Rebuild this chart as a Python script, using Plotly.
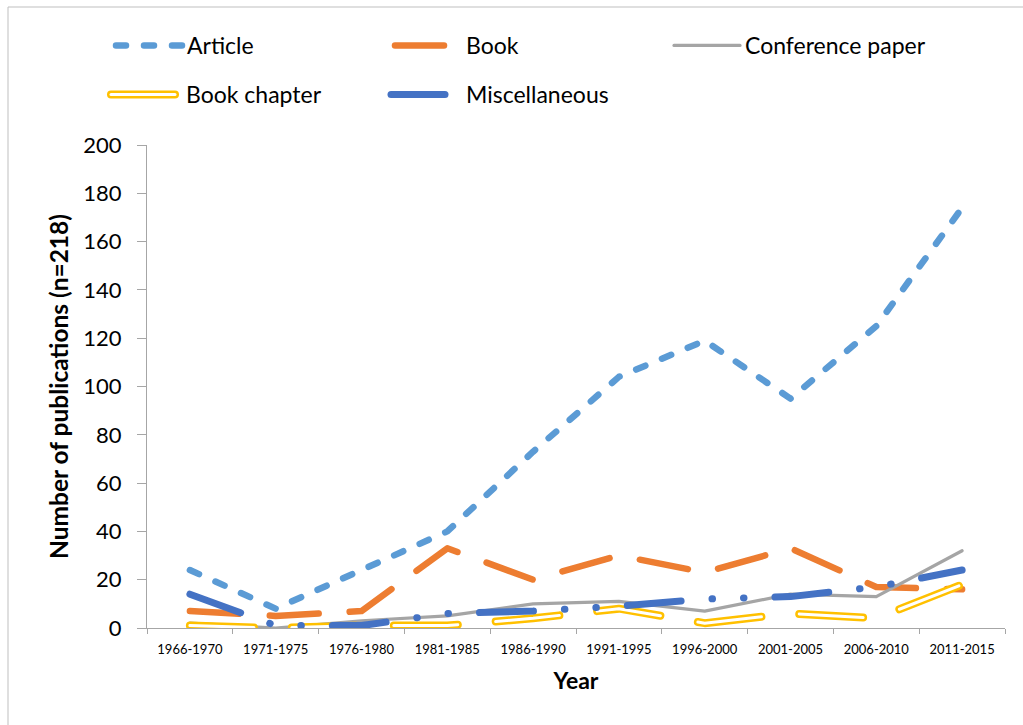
import plotly.graph_objects as go

categories = ['1966-1970', '1971-1975', '1976-1980', '1981-1985', '1986-1990',
              '1991-1995', '1996-2000', '2001-2005', '2006-2010', '2011-2015']
article = [24, 8, 24, 40, 73, 104, 119, 95, 125, 174]
book = [7, 5, 7, 33, 20, 30, 23, 33, 17, 16]
conference = [2, 0, 3, 5, 10, 11, 7, 14, 13, 32]
book_chapter = [1, 0, 1, 1, 4, 8, 2, 6, 4, 18]
misc = [14, 1, 1, 6, 7, 9, 12, 13, 17, 24]

y_ticks = list(range(0, 201, 20))

FONT = "Lato"
fig = go.Figure()

fig.add_trace(go.Scatter(x=categories, y=article, name="Article", mode="lines",
                         line=dict(color="#5B9BD5", width=6.5, dash="10px,18px"),
                         legend="legend"))
fig.add_trace(go.Scatter(x=categories, y=book, name="Book", mode="lines",
                         line=dict(color="#ED7D31", width=6.5, dash="49px,31px"),
                         legend="legend"))
fig.add_trace(go.Scatter(x=categories, y=conference, name="Conference paper", mode="lines",
                         line=dict(color="#A5A5A5", width=3.2),
                         legend="legend"))
fig.add_trace(go.Scatter(x=categories, y=book_chapter, name="Book chapter", mode="lines",
                         line=dict(color="#FFC000", width=8, dash="64px,38px"),
                         legend="legend2"))
fig.add_trace(go.Scatter(x=categories, y=book_chapter, name="Book chapter inner", mode="lines",
                         line=dict(color="#FFFFFF", width=3, dash="64px,38px"),
                         showlegend=False, hoverinfo="skip", legend="legend2"))
fig.add_trace(go.Scatter(x=categories, y=misc, name="Miscellaneous", mode="lines",
                         line=dict(color="#4472C4", width=7,
                                   dash="54px,31px,0.5px,31px,0.5px,31px"),
                         legend="legend2"))

axis_col = "#A6A6A6"
fig.update_layout(
    width=1023, height=725,
    margin=dict(l=147, r=18, t=145, b=97),
    paper_bgcolor="white", plot_bgcolor="white",
    font=dict(family=FONT, color="#000000"),
    legend=dict(orientation="h", xref="container", yref="container",
                x=111 / 1023, y=1 - 24 / 725, xanchor="left", yanchor="top",
                itemwidth=66, entrywidth=198, entrywidthmode="pixels",
                font=dict(size=23, family=FONT), bgcolor="rgba(0,0,0,0)",
                borderwidth=0),
    legend2=dict(orientation="h", xref="container", yref="container",
                 x=106 / 1023, y=1 - 73 / 725, xanchor="left", yanchor="top",
                 itemwidth=70, entrywidth=195, entrywidthmode="pixels",
                 font=dict(size=23, family=FONT), bgcolor="rgba(0,0,0,0)",
                 borderwidth=0),
    xaxis=dict(type="category", categoryorder="array", categoryarray=categories,
               range=[-0.5, len(categories) - 0.5],
               showline=True, linecolor=axis_col, linewidth=1.3,
               ticks="outside", tickson="boundaries", ticklen=5, tickcolor=axis_col,
               tickwidth=1.3, showgrid=False, zeroline=False,
               tickfont=dict(size=13, family=FONT, color="#000000"),
               ticklabelstandoff=9,
               title=dict(text="<b>Year</b>", font=dict(size=23, family=FONT),
                          standoff=17)),
    yaxis=dict(range=[0, 200], tickvals=y_ticks,
               showline=True, linecolor=axis_col, linewidth=1.3,
               ticks="outside", ticklen=9, tickcolor=axis_col, tickwidth=1.3,
               showgrid=False, zeroline=False,
               tickfont=dict(size=22, family=FONT, color="#000000"),
               ticklabelstandoff=11,
               title=dict(text="<b>Number of publications (n=218)</b>",
                          font=dict(size=24.5, family=FONT), standoff=7)),
    shapes=[dict(type="rect", xref="paper", yref="paper",
                 x0=(8 - 147) / 858, x1=(1040 - 147) / 858,
                 y0=(628 - 740) / 483, y1=(628 - 7) / 483,
                 line=dict(color="#BFBFBF", width=1), fillcolor="rgba(0,0,0,0)",
                 layer="below")],
)

post = """
document.body.style.margin='0';
var st=document.createElement('style');
st.textContent='.js-line{stroke-linecap:round;stroke-linejoin:round}';
document.head.appendChild(st);
var gd=document.getElementById('{plot_id}');
function addInner(){
  if(gd.querySelector('.bc-inner')) return;
  var groups=gd.querySelectorAll('g.traces');
  for(var i=0;i<groups.length;i++){
    var t=groups[i];
    var tx=t.querySelector('text');
    if(tx && tx.textContent.trim()==='Book chapter'){
      var ln=t.querySelector('path.js-line');
      if(ln){
        var c=ln.cloneNode(true);
        c.setAttribute('class','bc-inner');
        c.style.stroke='#FFFFFF';
        c.style.strokeWidth='3px';
        c.style.strokeLinecap='round';
        ln.parentNode.appendChild(c);
      }
    }
  }
}
addInner();
setInterval(addInner, 100);
"""

fig.write_html("out.html", post_script=post, config={"displayModeBar": False})
